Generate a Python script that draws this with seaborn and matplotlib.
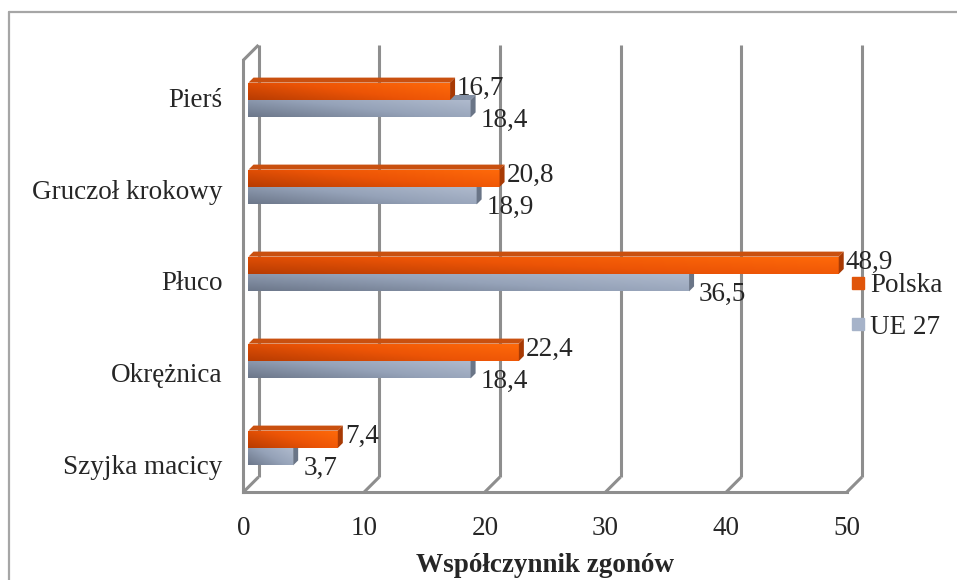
import numpy as np
import pandas as pd
import matplotlib
matplotlib.use("Agg")
import matplotlib.pyplot as plt
import matplotlib.transforms as mtransforms
from matplotlib.colors import LinearSegmentedColormap
from matplotlib.lines import Line2D
from matplotlib.patches import Polygon
import seaborn as sns

# ---- data -------------------------------------------------------------
categories = ["Pierś", "Gruczoł krokowy", "Płuco", "Okrężnica", "Szyjka macicy"]
polska = [16.7, 20.8, 48.9, 22.4, 7.4]
ue27 = [18.4, 18.9, 36.5, 18.4, 3.7]
series = ["Polska", "UE 27"]
x_ticks = [0, 10, 20, 30, 40, 50]
x_label = "Współczynnik zgonów"

df = pd.DataFrame({
    "Nowotwór": categories * 2,
    "Wartość": polska + ue27,
    "Seria": [series[0]] * len(categories) + [series[1]] * len(categories),
})

# ---- style ------------------------------------------------------------
sns.set_style("white")
plt.rcParams["font.family"] = ["Liberation Serif", "DejaVu Serif"]
FS = 19.5
GRAY = "#8E8E8E"
ORANGE = "#F25C05"
BLUE = "#A2AFC4"

W, H = 957, 580
fig = plt.figure(figsize=(W / 100, H / 100), dpi=100)
x0px, x1px, ytop_px, ybot_px = 243.5, 847, 60, 492
ax = fig.add_axes([x0px / W, 1 - ybot_px / H, (x1px - x0px) / W, (ybot_px - ytop_px) / H])

sns.barplot(data=df, y="Nowotwór", x="Wartość", hue="Seria", order=categories,
            hue_order=series, palette=[ORANGE, BLUE], orient="h", width=0.4,
            saturation=1, legend=False, ax=ax, zorder=3)

# category band: first centre 105 px, step 87 px within the 60..492 px front plane
YLIM = ((ybot_px - 105) / 87, (ytop_px - 105) / 87)
ax.set_xlim(0, 50)
ax.set_ylim(*YLIM)

# ---- 3D walls: back plane shifted up/right -------------------------------
DEPTH = 15
blend = mtransforms.blended_transform_factory(ax.transData, ax.transAxes)
back = mtransforms.offset_copy(blend, fig=fig, x=DEPTH, y=DEPTH, units="dots")
ident = mtransforms.IdentityTransform()
LW = 2.2

def seg(p, q, z=1):
    ln = Line2D([p[0], q[0]], [p[1], q[1]], transform=ident, color=GRAY, lw=LW,
                solid_capstyle="butt", solid_joinstyle="miter", zorder=z)
    ln.set_clip_on(False)
    ax.add_artist(ln)

for t in x_ticks:
    ax.plot([t, t], [0, 1], transform=back, color=GRAY, lw=LW, clip_on=False,
            solid_capstyle="butt", zorder=1)
    seg(back.transform((t, 0)), blend.transform((t, 0)))
seg(blend.transform((0, 1)), back.transform((0, 1)))

for side in ["top", "right"]:
    ax.spines[side].set_visible(False)
for side in ["left", "bottom"]:
    ax.spines[side].set_color(GRAY)
    ax.spines[side].set_linewidth(LW)
    ax.spines[side].set_zorder(2)

# ---- 3D bars ------------------------------------------------------------
SHIFT = 5
BD = 5
bar_tr = mtransforms.offset_copy(ax.transData, fig=fig, x=SHIFT, y=SHIFT, units="dots")

styles = {
    0: dict(cmap=LinearSegmentedColormap.from_list("o", ["#B83C02", "#EC5406", "#FF6A0A"]),
            top="#C9500F", side="#A83A04", z=4),
    1: dict(cmap=LinearSegmentedColormap.from_list("b", ["#6C778A", "#95A2B8", "#B0BBCE"]),
            top="#8491A6", side="#6A7587", z=3),
}

nx, ny = 120, 30
gx, gy = np.meshgrid(np.linspace(0, 1, nx), np.linspace(0, 1, ny))
grad = 0.6 * gx + 0.4 * (1 - gy)

bars = list(ax.patches)
n = len(categories)
bar_geom = []
for i, p in enumerate(bars):
    s = styles[i // n]
    x, y, w, h = p.get_x(), p.get_y(), p.get_width(), p.get_height()
    p.set_transform(bar_tr)
    p.set_facecolor((0, 0, 0, 0))
    p.set_edgecolor("none")
    p.set_zorder(s["z"])
    im = ax.imshow(grad, extent=(x, x + w, y + h, y), origin="upper", cmap=s["cmap"],
                   aspect="auto", transform=bar_tr, interpolation="bilinear", zorder=s["z"])
    im.set_clip_path(p)
    xl, yt = bar_tr.transform((x, y))
    xr, yb = bar_tr.transform((x + w, y + h))
    top = Polygon([(xl, yt), (xr, yt), (xr + BD, yt + BD), (xl + BD, yt + BD)],
                  closed=True, transform=ident, facecolor=s["top"], edgecolor="none",
                  zorder=s["z"] - 0.5)
    sidep = Polygon([(xr, yt), (xr, yb), (xr + BD, yb + BD), (xr + BD, yt + BD)],
                    closed=True, transform=ident, facecolor=s["side"], edgecolor="none",
                    zorder=s["z"])
    for poly in (top, sidep):
        poly.set_clip_on(False)
        ax.add_artist(poly)
    bar_geom.append((i // n, w, y + h / 2))

ax.set_xlim(0, 50)
ax.set_ylim(*YLIM)

# ---- value labels -------------------------------------------------------
offsets = {0: (12, 8), 1: (15, -7)}
for k, val, yc in bar_geom:
    ax.annotate(f"{val:.1f}".replace(".", ","), xy=(val, yc), xytext=offsets[k],
                textcoords="offset pixels", ha="left", va="center", fontsize=FS,
                annotation_clip=False, zorder=6)

# ---- axes text ----------------------------------------------------------
ax.set_xticks(x_ticks)
ax.set_xticklabels([str(t) for t in x_ticks])
ax.tick_params(axis="x", length=6, width=LW, color=GRAY, direction="out", pad=11,
               labelsize=FS)
ax.tick_params(axis="y", length=0, labelleft=False)
ax.set_ylabel("")
ax.set_xlabel(x_label, fontsize=FS, fontweight="bold", labelpad=9)

# category names sit on the front face of the wall, spread over a taller band
lab_top, lab_bot = 52, 510
lab_ax = fig.add_axes([x0px / W, 1 - lab_bot / H, 0.001, (lab_bot - lab_top) / H],
                      frameon=False)
lab_ax.set_ylim(len(categories) - 0.5, -0.5)
lab_ax.set_yticks(range(len(categories)))
lab_ax.set_yticklabels(categories)
lab_ax.set_xticks([])
lab_ax.tick_params(axis="y", length=0, pad=15, labelsize=FS)

# ---- legend -------------------------------------------------------------
handles = [Line2D([], [], ls="", marker="s", markersize=8, color="#E0550A"),
           Line2D([], [], ls="", marker="s", markersize=8, color="#A6B3C9")]
fig.legend(handles, series, loc="upper left", bbox_to_anchor=(850 / W, 1 - 273 / H),
           frameon=False, fontsize=FS, handlelength=0.6, handletextpad=0.15,
           labelspacing=0.62, borderpad=0, borderaxespad=0)

# ---- chart-area border (left and top edges) -----------------------------
for xs, ys in [([9 / W, 9 / W], [0, 1 - 12 / H]), ([9 / W, 1], [1 - 12 / H, 1 - 12 / H])]:
    fig.add_artist(Line2D(xs, ys, transform=fig.transFigure, color="#A6A6A6", lw=1.6))

fig.savefig("out.png", dpi=100)
